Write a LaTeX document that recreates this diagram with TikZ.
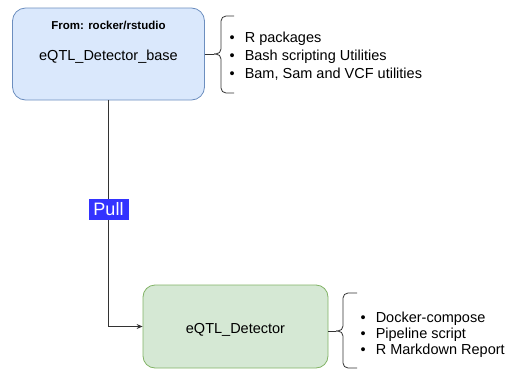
\documentclass[tikz,border=0pt]{standalone}
\usepackage{fontspec}
\setmainfont{Liberation Sans}
\usetikzlibrary{arrows.meta}
\begin{document}
\begin{tikzpicture}[x=1pt,y=-1pt,
  lbl/.style={font=\fontsize{14.5}{17}\selectfont, inner sep=0pt},
  hdr/.style={font=\bfseries\fontsize{11.5}{14}\selectfont, inner sep=0pt},
  basebox/.style={draw=blueEdge, fill=blueFill, line width=0.8pt, rounded corners=13pt,
    minimum width=192pt, minimum height=92pt, inner sep=0pt},
  detbox/.style={draw=greenEdge, fill=greenFill, line width=0.8pt, rounded corners=12pt,
    minimum width=185pt, minimum height=83pt, inner sep=0pt},
  pullbox/.style={fill=pullBlue, text=white, font=\fontsize{18}{20}\selectfont,
    minimum width=40pt, minimum height=21pt, inner sep=0pt},
  conn/.style={draw=lineGray, line width=0.8pt},
  brace/.style={draw=lineGray, line width=0.8pt, rounded corners=5pt},
  item/.style={font=\fontsize{14.5}{17}\selectfont, inner sep=0pt, anchor=base west},
]
\definecolor{blueFill}{HTML}{DAE8FC}
\definecolor{blueEdge}{HTML}{6C8EBF}
\definecolor{greenFill}{HTML}{D5E8D4}
\definecolor{greenEdge}{HTML}{82B366}
\definecolor{pullBlue}{HTML}{3333FF}
\definecolor{lineGray}{HTML}{333333}
\useasboundingbox (0,0) rectangle (507,370);

% image boxes
\node[basebox] (base) at (108.5,54) {};
\node[hdr, anchor=base] (from) at (108.5,29) {From: rocker/rstudio};
\node[lbl, anchor=base] (baselbl) at (108.5,60) {eQTL\_Detector\_base};

\node[detbox] (det) at (235.5,326.5) {};
\node[lbl, anchor=base] (detlbl) at (235.5,333) {eQTL\_Detector};

% pull connector
\draw[conn, -{Stealth[length=6pt,width=5pt]}] (base.south) |- (det.west);
\node[pullbox] (pull) at (108.5,209.5) {Pull};

% contents of the base image
\coordinate (tipA) at (214,54);
\draw[brace] (234,16) -- (221,16) -- (221,54) -- (tipA);
\draw[brace] (234,93) -- (221,93) -- (221,54) -- (tipA);
\draw[conn] (base.east |- tipA) -- (tipA);
\node[item] (a1) at (229.5,42) {\textbullet\hspace{10pt}R packages};
\node[item] (a2) at (229.5,60) {\textbullet\hspace{10pt}Bash scripting Utilities};
\node[item] (a3) at (229.5,78) {\textbullet\hspace{10pt}Bam, Sam and VCF utilities};

% contents of the pipeline image
\coordinate (tipB) at (336,331);
\draw[brace] (357,293) -- (343,293) -- (343,331) -- (tipB);
\draw[brace] (357,368) -- (343,368) -- (343,331) -- (tipB);
\draw[conn] (det.east |- tipB) -- (tipB);
\node[item] (b1) at (360.5,322) {\textbullet\hspace{10pt}Docker-compose};
\node[item] (b2) at (360.5,338) {\textbullet\hspace{10pt}Pipeline script};
\node[item] (b3) at (360.5,354) {\textbullet\hspace{10pt}R Markdown Report};
\end{tikzpicture}
\end{document}
